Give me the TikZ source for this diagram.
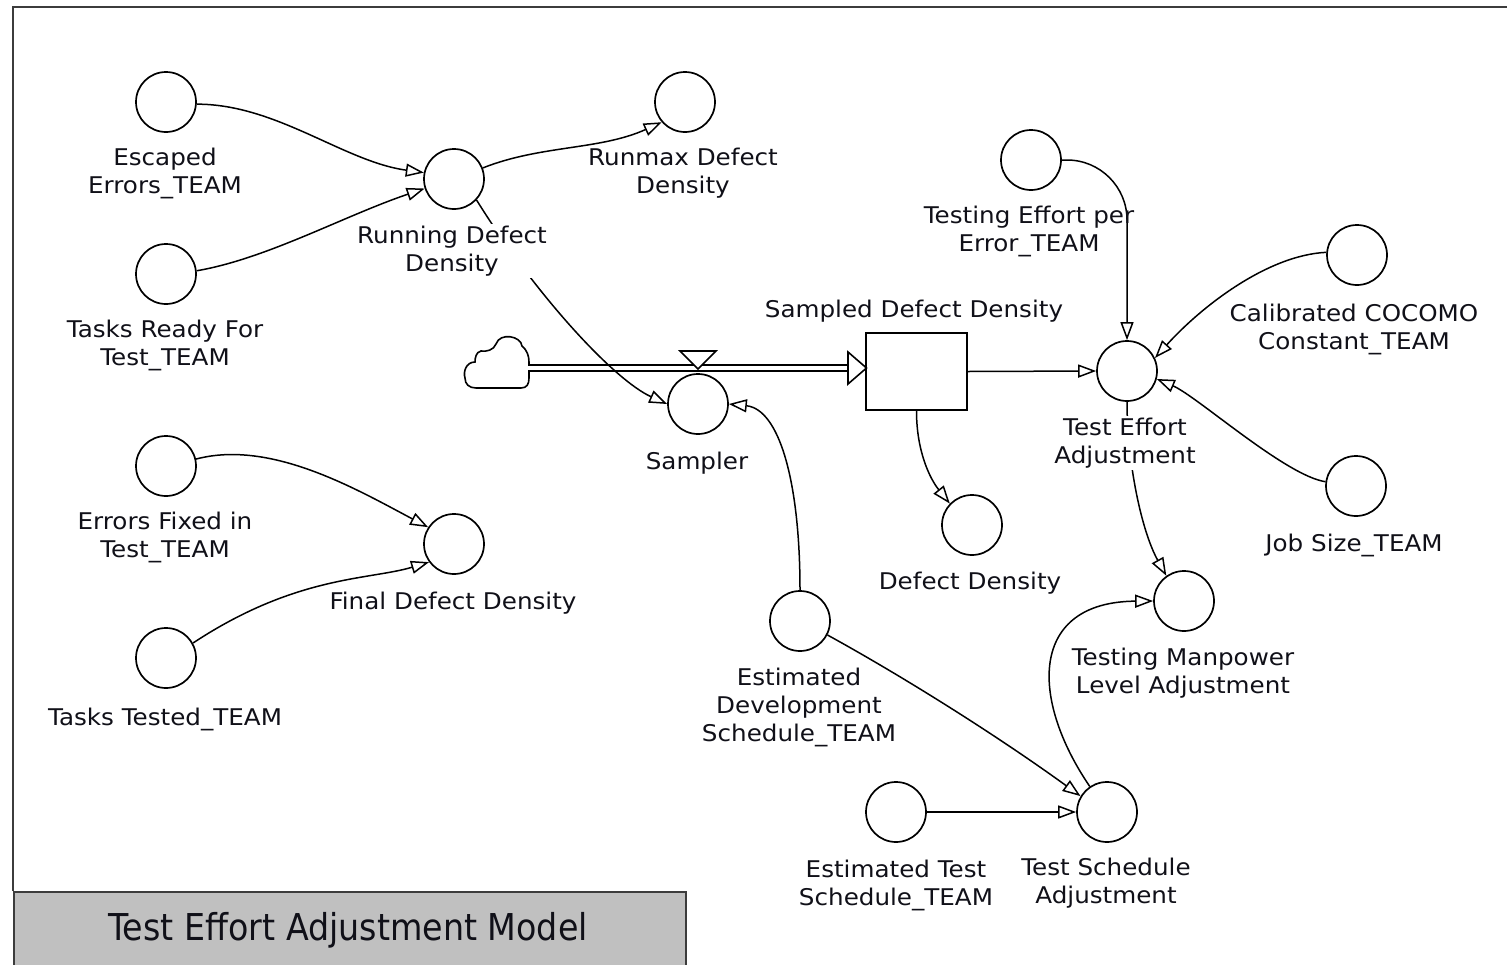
\documentclass[tikz,border=0pt]{standalone}
\usepackage{fontspec}
\setmainfont{DejaVu Sans}[FakeStretch=1.07]
\newfontfamily\titlefont{DejaVu Sans}[FakeStretch=0.9]
\usetikzlibrary{arrows.meta,calc}
\definecolor{framegray}{HTML}{3C3C3C}
\definecolor{titlegray}{HTML}{C0C0C0}
\definecolor{ink}{HTML}{101018}

\begin{document}
\begin{tikzpicture}[x=1pt,y=-1pt,
  aux/.style={circle,draw,line width=1.7pt,minimum size=60pt,inner sep=0pt},
  stockbox/.style={rectangle,draw,line width=2.2pt,minimum width=101pt,minimum height=77pt,inner sep=0pt},
  lbl/.style={font=\fontsize{23}{28}\selectfont,align=center,inner sep=0pt,text=ink},
  lblmask/.style={lbl,fill=white,inner sep=2pt},
  link/.style={line width=1.5pt,-{Triangle[length=18pt,width=13pt,fill=white]}},
  titlebox/.style={rectangle,draw=framegray,line width=2pt,fill=titlegray,
    minimum width=672pt,minimum height=80pt,inner sep=0pt}]

\useasboundingbox (0,0) rectangle (1507,964);

% outer frame of the sketch area
\draw[framegray,line width=2.5pt] (13,891) -- (13,7) -- (1507,7);

% title bar
\node[titlebox,anchor=north west] (title) at (13,891) {};
\node[font=\titlefont\fontsize{37}{40}\selectfont,text=ink,inner sep=0pt] (titletext) at (348,930) {Test Effort Adjustment Model};

% auxiliaries
\node[aux] (esc) at (166,102) {};
\node[aux] (trt) at (166,274) {};
\node[aux] (rdd) at (454,179) {};
\node[aux] (rmx) at (685,102) {};
\node[aux] (eft) at (166,466) {};
\node[aux] (fdd) at (454,544) {};
\node[aux] (ttt) at (166,658) {};
\node[aux] (smp) at (698,404) {};
\node[aux] (tep) at (1031,160) {};
\node[aux] (tea) at (1127,371) {};
\node[aux] (cal) at (1357,255) {};
\node[aux] (job) at (1356,486) {};
\node[aux] (dd) at (972,525) {};
\node[aux] (tml) at (1184,601) {};
\node[aux] (eds) at (800,621) {};
\node[aux] (ets) at (896,812) {};
\node[aux] (tsa) at (1107,812) {};

% stock
\node[stockbox] (sdd) at (916.5,371.5) {};

% source cloud
\coordinate (cloudR) at (528,368);
\draw[line width=1.6pt,fill=white]
  (476,388) -- (521,388)
  .. controls (527,388) and (529,384) .. (529,378)
  -- (529,362)
  .. controls (529,356) and (527,350) .. (522,346)
  .. controls (521,336) and (500,332) .. (496,344)
  .. controls (494,350) and (486,352) .. (481,351)
  .. controls (476,352) and (475,358) .. (475,362)
  .. controls (466,362) and (463,372) .. (465,378)
  .. controls (465,384) and (469,388) .. (476,388) -- cycle;

% flow pipe with valve into the stock
\coordinate (flowTip) at (866.5,368);
\coordinate (flowBase) at (848,368);
\draw[line width=1.6pt,double distance=4.5pt] (cloudR) -- (flowBase);
\draw[line width=1.6pt,fill=white,line join=miter]
  ($(flowBase)+(0,-16)$) -- (flowTip) -- ($(flowBase)+(0,16)$) -- cycle;
\coordinate (valve) at (698,369);
\draw[line width=1.6pt,fill=white]
  ($(valve)+(-18,-18)$) -- ($(valve)+(18,-18)$) -- (valve) -- cycle;

% information links
\draw[link] (esc.-4) .. controls +(80,0) and +(-80,-11) .. (rdd.168);
\draw[link] (trt.6) .. controls +(70,-12) and +(-80,27) .. (rdd.198);
\draw[link] (rdd.21) .. controls +(58,-23) and +(-62,28) .. (rmx.221);
\draw[link] (rdd.-43) .. controls +(59,95) and +(-53,-24) .. (smp.180);
\draw[link] (eds.90) .. controls +(0,-110) and +(50,5) .. (smp.0);
\draw[link] (sdd.east) -- (tea.west);
\draw[link] (sdd.south) .. controls +(0,40) and +(-20,-25) .. (dd.136);
\draw[link,rounded corners=60pt] (tep.0) -| (tea.90);
\draw[link] (cal.175) .. controls +(-60,3) and +(45,-50) .. (tea.25);
\draw[link] (job.172) .. controls +(-40,-6) and +(40,17) .. (tea.-15);
\draw[link] (tea.-90) .. controls +(0,60) and +(-25,-45) .. (tml.125);
\draw[link] (tsa.124) .. controls +(-60,-88) and +(-124,1) .. (tml.180);
\draw[link] (eds.-27) .. controls +(80,44) and +(-80,-58) .. (tsa.149);
\draw[link] (ets.east) -- (tsa.west);
\draw[link] (eft.13) .. controls +(75,-20) and +(-70,-37) .. (fdd.147);
\draw[link] (ttt.29) .. controls +(103,-68) and +(-60,18) .. (fdd.216);

% variable names
\node[lbl] (esc-l) at (165,173) {Escaped\\Errors\_TEAM};
\node[lbl] (trt-l) at (165,345) {Tasks Ready For\\Test\_TEAM};
\node[lblmask] (rdd-l) at (452,251) {Running Defect\\Density};
\node[lblmask] (rmx-l) at (683,173) {Runmax Defect\\Density};
\node[lbl] (eft-l) at (165,537) {Errors Fixed in\\Test\_TEAM};
\node[lbl] (fdd-l) at (453,603) {Final Defect Density};
\node[lbl] (ttt-l) at (165,719) {Tasks Tested\_TEAM};
\node[lbl] (sdd-l) at (914,311) {Sampled Defect Density};
\node[lbl] (smp-l) at (697,463) {Sampler};
\node[lbl] (tep-l) at (1029,231) {Testing Effort per\\Error\_TEAM};
\node[lbl] (cal-l) at (1354,329) {Calibrated COCOMO\\Constant\_TEAM};
\node[lblmask] (tea-l) at (1125,443) {Test Effort\\Adjustment};
\node[lbl] (job-l) at (1354,545) {Job Size\_TEAM};
\node[lbl] (dd-l) at (970,583) {Defect Density};
\node[lbl] (tml-l) at (1183,673) {Testing Manpower\\Level Adjustment};
\node[lbl] (eds-l) at (799,707) {Estimated\\Development\\Schedule\_TEAM};
\node[lbl] (ets-l) at (896,885) {Estimated Test\\Schedule\_TEAM};
\node[lbl] (tsa-l) at (1106,883) {Test Schedule\\Adjustment};

\end{tikzpicture}
\end{document}
